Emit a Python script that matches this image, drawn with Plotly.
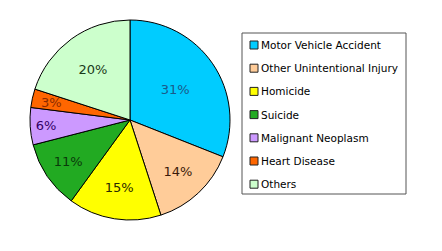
import math
import plotly.graph_objects as go

labels = ["Motor Vehicle Accident", "Other Unintentional Injury", "Homicide",
          "Suicide", "Malignant Neoplasm", "Heart Disease", "Others"]
values = [31, 14, 15, 11, 6, 3, 20]
colors = ["#00CCFF", "#FFCC99", "#FFFF00", "#22AA22", "#CC99FF", "#FF6600", "#CCFFCC"]
text_colors = ["#1a5a8a", "#3a1a0a", "#2a2a00", "#0a3a0a", "#330066", "#8a2a00", "#1a3a1a"]
texts = [f"{v}%" for v in values]

W, H = 442, 251
FONT = "DejaVu Sans, Verdana, sans-serif"
CX, CY, R = 130, 120, 100  # pie centre / radius in pixels

# small slices whose labels overflow the slice in the original
small = [v < 5 for v in values]
pie_texts = ["" if s else t for s, t in zip(small, texts)]

fig = go.Figure()
fig.add_trace(go.Pie(
    labels=labels, values=values, text=pie_texts, textinfo="text",
    textposition="inside", insidetextorientation="horizontal",
    sort=False, direction="clockwise", rotation=0,
    marker=dict(colors=colors, line=dict(color="#000000", width=1)),
    textfont=dict(family=FONT, size=13, color=text_colors),
    domain=dict(x=[(CX - R) / W, (CX + R) / W], y=[(H - CY - R) / H, (H - CY + R) / H]),
    showlegend=False, hoverinfo="label+percent",
))

annotations = []
total = sum(values)
cum = 0
for v, t, s, tc in zip(values, texts, small, text_colors):
    mid = (cum + v / 2) / total * 2 * math.pi
    cum += v
    if s:
        px = CX + 0.8 * R * math.sin(mid)
        py = CY - 0.8 * R * math.cos(mid)
        annotations.append(dict(text=t, xref="paper", yref="paper", x=px / W, y=1 - py / H,
                                xanchor="center", yanchor="middle", showarrow=False,
                                font=dict(family=FONT, size=13, color=tc)))

# manual legend
lx0, lx1, ly0, ly1 = 242, 406, 33, 194
shapes = [dict(type="rect", xref="paper", yref="paper",
               x0=lx0 / W, x1=lx1 / W, y0=1 - ly1 / H, y1=1 - ly0 / H,
               line=dict(color="#555555", width=1), fillcolor="white")]
y_first, step = 45, 23.2
for i, (lab, col) in enumerate(zip(labels, colors)):
    yc = y_first + i * step
    shapes.append(dict(type="rect", xref="paper", yref="paper",
                       x0=250 / W, x1=258 / W, y0=1 - (yc + 4) / H, y1=1 - (yc - 4) / H,
                       line=dict(color="#222222", width=1), fillcolor=col))
    annotations.append(dict(text=lab, xref="paper", yref="paper", x=259 / W, y=1 - yc / H,
                            xanchor="left", yanchor="middle", showarrow=False,
                            font=dict(family=FONT, size=10.5, color="#000000")))

fig.update_layout(width=W, height=H, margin=dict(l=0, r=0, t=0, b=0),
                  paper_bgcolor="white", plot_bgcolor="white",
                  shapes=shapes, annotations=annotations)
fig.write_html("out.html")
